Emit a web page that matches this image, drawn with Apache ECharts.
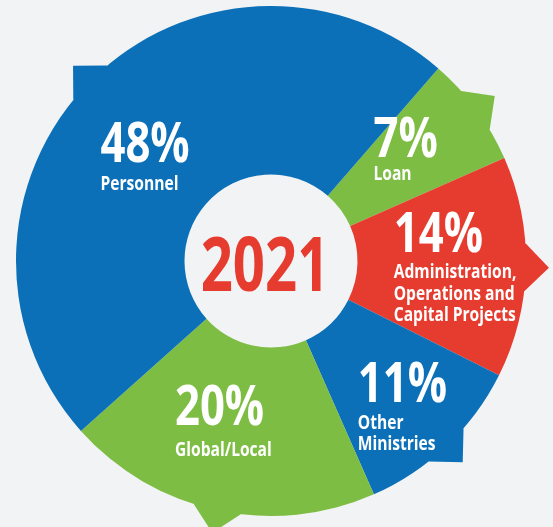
<!DOCTYPE html>
<html>
<head>
<meta charset="utf-8">
<script src="https://cdn.jsdelivr.net/npm/echarts@6/dist/echarts.min.js"></script>
<style>
html,body{margin:0;padding:0;background:#f2f3f5;}
#c{width:553px;height:527px;}
</style>
</head>
<body>
<div id="c"></div>
<script>
// Data
const categories = ['Loan', 'Administration,\nOperations and\nCapital Projects', 'Other\nMinistries', 'Global/Local', 'Personnel'];
const values = [7, 14, 11, 20, 48];
const colors = ['#7dbd43', '#e63c2f', '#0b70b7', '#7dbd43', '#0b70b7'];
const yearLabel = '2021';

// label placement relative to each slice's inside-label anchor (text left, percent baseline)
const labelShift = [[-35, -3], [-48, -13], [-31, 17], [-60, -3], [-49, 21]];
const nameGap = [23, 26, 27, 31, 28];

const FONT = '"Open Sans", "Noto Sans", sans-serif';
const SX = 0.78;         // condensed look
const PF = 56, NF = 20;  // percent / name font sizes

const chart = echarts.init(document.getElementById('c'), null, {renderer: 'canvas'});

chart.setOption({
  backgroundColor: '#f2f3f5',
  animation: false,
  series: [{
    type: 'pie',
    center: [271, 261],
    radius: [86.5, 255],
    startAngle: 49,
    clockwise: true,
    label: {show: false},
    labelLine: {show: false},
    itemStyle: {borderWidth: 0},
    emphasis: {disabled: true},
    data: categories.map((c, i) => ({name: c, value: values[i], itemStyle: {color: colors[i]}}))
  }]
});

const data = chart.getModel().getSeriesByIndex(0).getData();
const elements = [];
for (let i = 0; i < data.count(); i++) {
  const L = data.getItemLayout(i);
  const mid = (L.startAngle + L.endAngle) / 2;
  const ux = Math.cos(mid), uy = Math.sin(mid);
  const vx = -uy, vy = ux;
  // decorative pointer tab at slice mid-angle
  const tipR = L.r + 23, baseR = L.r - 1, half = 24, innerR = L.r - 20;
  const pts = [
    [L.cx + ux * tipR, L.cy + uy * tipR],
    [L.cx + ux * baseR + vx * half, L.cy + uy * baseR + vy * half],
    [L.cx + ux * innerR, L.cy + uy * innerR],
    [L.cx + ux * baseR - vx * half, L.cy + uy * baseR - vy * half]
  ];
  elements.push({type: 'polygon', shape: {points: pts}, style: {fill: colors[i]}, z: 1, silent: true});

  // label
  const rm = (L.r0 + L.r) / 2;
  const ax = L.cx + ux * rm + labelShift[i][0];
  const ay = L.cy + uy * rm + labelShift[i][1];
  const children = [{
    type: 'text', x: 0, y: -0.285 * PF, z: 20, z2: 20,
    style: {text: values[i] + '%', fill: '#fff', fontFamily: FONT, fontWeight: 'bold', fontSize: PF, align: 'left', verticalAlign: 'middle'}
  }];
  data.getName(i).split('\n').forEach((line, k) => {
    children.push({
      type: 'text', x: 0, y: nameGap[i] + k * 21.5 - 0.285 * NF, z: 20, z2: 20,
      style: {text: line, fill: '#fff', fontFamily: FONT, fontWeight: 'bold', fontSize: NF, align: 'left', verticalAlign: 'middle'}
    });
  });
  elements.push({type: 'group', x: ax, y: ay, scaleX: SX, z: 20, silent: true, children: children});
}
const L0 = data.getItemLayout(0);
elements.push({
  type: 'text', x: L0.cx - 6, y: L0.cy + 8.5, scaleX: 0.74, z: 10, silent: true,
  style: {text: yearLabel, fill: '#e63c2f', fontFamily: FONT, fontWeight: 'bold', fontSize: 76, align: 'center', verticalAlign: 'middle'}
});
chart.setOption({graphic: {elements: elements}});
</script>
</body>
</html>
